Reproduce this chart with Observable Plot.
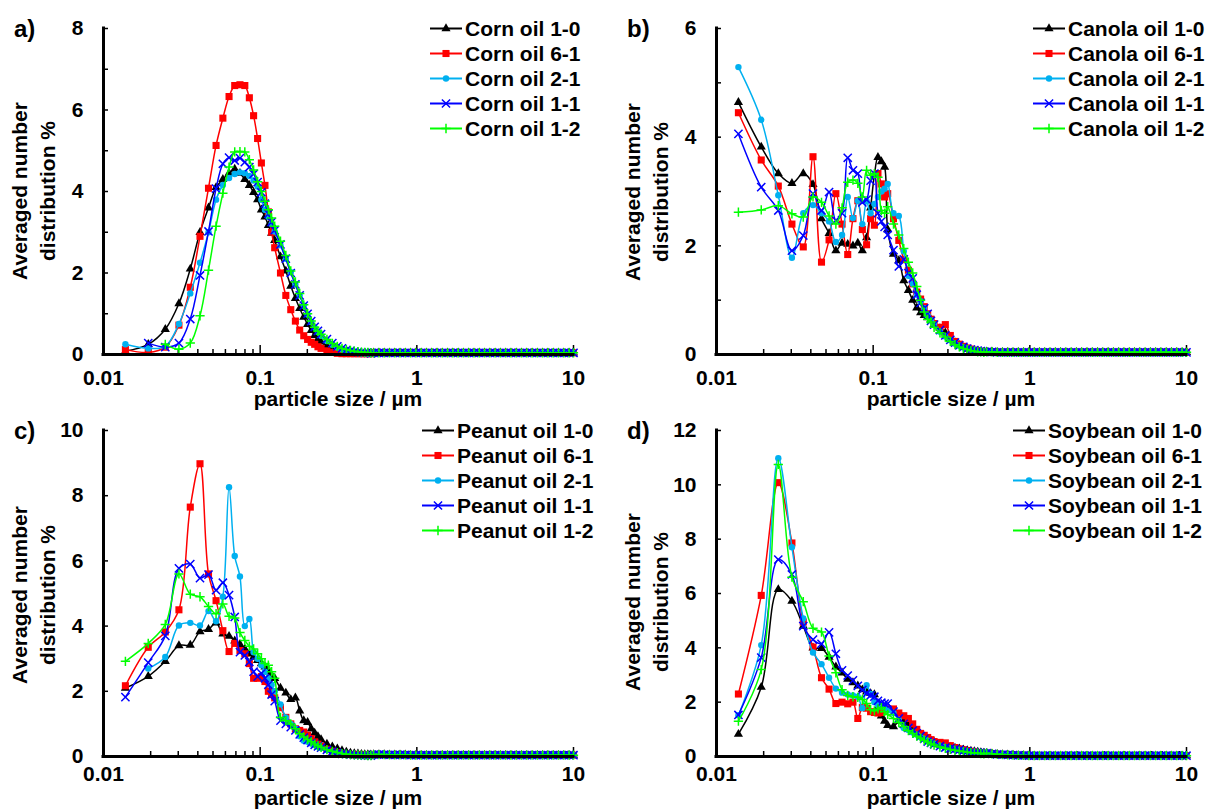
<!DOCTYPE html>
<html>
<head>
<meta charset="utf-8">
<script src="https://cdn.jsdelivr.net/npm/d3@7"></script>
<script src="https://cdn.jsdelivr.net/npm/@observablehq/plot@0.6"></script>
<style>
  body { margin: 0; background: #ffffff; }
  #root { position: relative; width: 1208px; height: 810px; overflow: hidden; background: #ffffff;
          font-family: "Liberation Sans", Arial, sans-serif; font-weight: bold; color: #000; }
  .panel { position: absolute; width: 595px; height: 402px; }
  .panel svg { position: absolute; left: 0; top: 0; overflow: visible; }
  .plabel { position: absolute; left: 14px; top: 15px; font-size: 24px; line-height: 28px; }
  .ytitle { position: absolute; width: 300px; height: 56px; line-height: 28px; font-size: 21px;
            text-align: center; transform: rotate(-90deg); white-space: nowrap; }
  .xtitle { position: absolute; width: 300px; line-height: 16px; font-size: 21px; text-align: center; white-space: nowrap; }
  .legend { position: absolute; top: 16px; }
  .legend .row { display: flex; align-items: center; height: 25px; font-size: 21px; white-space: nowrap; }
  .legend svg { position: static; margin-right: 3px; }
</style>
</head>
<body>
<div id="root"></div>
<script>
// ---------- shared size grid (µm) ----------
const headX = [0.0138,0.0193,0.0248,0.0303,0.0358,0.0413,0.0468,0.0523,0.0578,0.0633,0.0688,0.0743,0.0798,0.0853,0.0908,0.0963,0.1018,0.1073,0.1128,0.1183,0.1238,0.1348,0.1458,0.1568,0.1678,0.1788,0.1898,0.2008,0.2118,0.2228,0.2338,0.2448,0.2668,0.2888,0.3108,0.3328,0.3548,0.3768,0.3988,0.4208,0.4428,0.4648,0.4868,0.5088];
const tailX = [0.53,0.573,0.619,0.669,0.723,0.781,0.844,0.912,0.986,1.066,1.152,1.245,1.345,1.454,1.571,1.698,1.835,1.983,2.143,2.316,2.503,2.705,2.923,3.159,3.414,3.69,3.988,4.31,4.657,5.033,5.44,5.879,6.353,6.866,7.42,8.019,8.667,9.366,10];

// near-zero tails (0.5–10 µm)
const tailA = [0.04,0.04,0.04,0.04,0.04,0.04,0.04,0.04,0.04,0.04,0.04,0.04,0.04,0.04,0.04,0.04,0.04,0.04,0.04,0.04,0.04,0.04,0.04,0.04,0.04,0.04,0.04,0.04,0.04,0.04,0.04,0.04,0.04,0.04,0.04,0.04,0.04,0.04,0.04];
const tailB = [0.05,0.05,0.04,0.04,0.04,0.04,0.04,0.04,0.04,0.04,0.04,0.04,0.04,0.04,0.04,0.04,0.04,0.04,0.04,0.04,0.04,0.04,0.04,0.04,0.04,0.04,0.04,0.04,0.04,0.04,0.04,0.04,0.04,0.04,0.04,0.04,0.04,0.04,0.04];
const tailC = [0.06,0.06,0.06,0.05,0.05,0.05,0.05,0.04,0.04,0.04,0.04,0.04,0.04,0.04,0.04,0.04,0.04,0.04,0.04,0.04,0.04,0.04,0.04,0.04,0.04,0.04,0.04,0.04,0.04,0.04,0.04,0.04,0.04,0.04,0.04,0.04,0.04,0.04,0.04];
const tailD = [0.12,0.1,0.08,0.07,0.06,0.05,0.04,0.04,0.03,0.03,0.03,0.03,0.03,0.03,0.03,0.03,0.03,0.03,0.03,0.03,0.03,0.03,0.03,0.03,0.03,0.03,0.03,0.03,0.03,0.03,0.03,0.03,0.03,0.03,0.03,0.03,0.03,0.03,0.03];

// ---------- a) Corn oil ----------
const corn_1_0 = [0.08,0.25,0.62,1.25,2.1,3.0,3.6,4.1,4.3,4.45,4.55,4.45,4.3,4.15,3.98,3.8,3.55,3.38,3.17,2.98,2.8,2.4,2.05,1.68,1.38,1.13,0.92,0.74,0.59,0.47,0.38,0.31,0.2,0.13,0.09,0.06,0.04,0.03,0.03,0.03,0.03,0.03,0.03,0.03];
const corn_6_1 = [0.12,0.05,0.18,0.72,1.65,2.9,4.08,5.13,5.8,6.33,6.6,6.62,6.6,6.3,5.86,5.3,4.7,4.15,3.5,3.0,2.62,2.0,1.45,1.1,0.82,0.6,0.46,0.37,0.3,0.25,0.19,0.15,0.09,0.05,0.03,0.02,0.02,0.02,0.02,0.02,0.02,0.02,0.02,0.02];
const corn_2_1 = [0.25,0.15,0.2,0.75,1.5,2.25,3.0,3.8,4.16,4.33,4.43,4.47,4.45,4.38,4.27,4.12,3.8,3.55,3.38,3.2,3.02,2.68,2.35,2.02,1.72,1.45,1.2,0.98,0.8,0.66,0.55,0.46,0.33,0.24,0.17,0.13,0.1,0.08,0.06,0.05,0.04,0.04,0.03,0.03];
const corn_1_1 = [null,0.28,0.18,0.28,0.87,1.94,3.02,4.07,4.68,4.83,4.76,4.82,4.72,4.6,4.43,4.23,3.98,3.7,3.45,3.25,3.05,2.7,2.35,2.0,1.72,1.45,1.2,1.0,0.82,0.68,0.58,0.5,0.38,0.28,0.2,0.15,0.11,0.09,0.07,0.06,0.05,0.04,0.04,0.03];
const corn_1_2 = [null,null,0.25,0.13,0.28,0.95,2.07,3.15,3.96,4.6,4.97,4.98,4.97,4.78,4.53,4.24,4.0,3.76,3.55,3.35,3.15,2.78,2.43,2.05,1.78,1.5,1.22,1.0,0.82,0.67,0.57,0.5,0.37,0.27,0.2,0.15,0.12,0.1,0.08,0.07,0.06,0.05,0.05,0.04];

// ---------- b) Canola oil ----------
const canola_1_0 = [4.64,3.82,3.33,3.15,3.33,3.13,2.5,2.23,1.91,2.05,2.03,2.0,2.05,1.91,2.15,2.7,3.3,3.63,3.55,3.45,2.3,1.85,1.73,1.36,1.18,1.0,0.86,0.77,0.72,0.68,0.64,0.55,0.48,0.4,0.3,0.22,0.17,0.13,0.1,0.08,0.07,0.06,0.05,0.04];
const canola_6_1 = [4.45,3.58,3.1,2.4,1.98,3.64,1.7,2.11,2.96,2.4,1.84,2.5,2.83,2.3,2.02,2.5,2.38,3.33,3.14,2.9,2.96,2.5,2.1,1.75,1.55,1.3,1.15,1.02,0.88,0.75,0.65,0.57,0.5,0.55,0.35,0.24,0.19,0.15,0.12,0.1,0.08,0.07,0.06,0.05];
const canola_2_1 = [5.29,4.32,2.93,1.78,2.6,2.75,2.6,2.45,2.07,2.2,2.9,2.51,2.83,2.4,2.82,2.6,2.77,2.9,3.0,3.05,3.14,2.6,2.55,1.9,1.45,1.3,1.1,0.98,0.85,0.72,0.63,0.55,0.42,0.33,0.26,0.2,0.16,0.13,0.11,0.09,0.08,0.06,0.05,0.05];
const canola_1_1 = [4.06,3.08,2.65,1.91,2.19,2.96,2.65,2.99,2.47,2.6,3.62,3.39,3.33,2.8,2.85,3.2,3.33,2.6,2.45,2.35,2.2,1.92,1.62,1.75,1.5,1.4,1.1,0.95,0.85,0.75,0.62,0.55,0.45,0.35,0.27,0.22,0.17,0.14,0.11,0.09,0.08,0.07,0.06,0.05];
const canola_1_2 = [2.62,2.66,2.74,2.59,2.53,2.9,2.8,2.55,2.4,2.7,3.17,3.21,3.15,2.9,3.39,3.3,3.33,3.26,2.65,2.6,2.72,2.4,2.2,1.95,1.7,1.5,1.25,1.0,0.78,0.65,0.6,0.5,0.4,0.32,0.24,0.18,0.14,0.11,0.09,0.07,0.06,0.05,0.05,0.04];

// ---------- c) Peanut oil ----------
const peanut_1_0 = [2.1,2.46,2.92,3.4,3.42,3.83,3.9,4.1,3.76,3.69,3.55,3.44,3.3,3.15,3.05,2.95,2.85,2.75,2.6,2.5,2.4,2.1,1.95,1.75,1.8,1.4,1.1,1.05,0.85,0.72,0.61,0.52,0.38,0.3,0.24,0.18,0.14,0.11,0.09,0.08,0.07,0.06,0.06,0.05];
const peanut_6_1 = [2.17,3.35,3.82,4.5,7.65,8.98,5.6,4.78,3.86,3.22,3.47,3.25,3.15,2.85,2.4,2.4,2.45,2.3,2.0,1.9,1.8,1.5,1.2,1.0,0.85,0.8,0.75,0.65,0.55,0.45,0.38,0.32,0.22,0.16,0.12,0.09,0.07,0.06,0.05,0.05,0.04,0.04,0.03,0.03];
const peanut_2_1 = [null,2.7,3.05,4.02,4.1,4.02,4.46,4.15,4.9,8.26,6.15,5.52,4.0,4.22,3.2,3.0,2.8,2.6,2.4,2.2,2.0,1.6,1.2,1.0,0.85,0.62,0.48,0.45,0.4,0.35,0.3,0.26,0.2,0.15,0.11,0.08,0.06,0.05,0.04,0.04,0.03,0.03,0.03,0.03];
const peanut_1_1 = [1.82,2.88,3.7,5.77,5.9,5.47,5.58,5.1,5.33,4.95,4.28,3.2,3.1,2.9,2.6,2.45,2.55,2.4,2.2,1.9,1.7,1.1,1.0,0.9,0.8,0.68,0.58,0.5,0.42,0.36,0.31,0.27,0.2,0.15,0.11,0.08,0.07,0.06,0.05,0.04,0.04,0.03,0.03,0.03];
const peanut_1_2 = [2.92,3.47,4.05,5.6,4.98,4.9,4.6,4.38,4.68,4.3,4.25,3.8,3.56,3.38,3.3,3.15,3.0,2.85,2.8,2.6,2.4,1.2,1.1,1.0,0.85,0.7,0.6,0.52,0.45,0.38,0.33,0.28,0.21,0.16,0.12,0.09,0.07,0.06,0.05,0.05,0.04,0.04,0.03,0.03];

// ---------- d) Soybean oil ----------
const soy_1_0 = [0.82,2.55,6.15,5.72,4.8,4.0,3.98,3.66,3.3,3.08,2.85,2.72,2.6,2.46,2.38,2.32,2.28,1.8,1.5,1.3,1.15,1.1,1.3,1.3,1.15,1.0,0.88,0.78,0.7,0.64,0.58,0.53,0.45,0.4,0.35,0.31,0.28,0.25,0.22,0.2,0.18,0.16,0.15,0.13];
const soy_6_1 = [2.3,5.93,10.08,7.86,4.95,4.03,2.9,2.48,1.95,2.0,1.94,2.0,1.4,1.8,1.78,1.65,1.62,1.6,1.62,1.7,1.75,1.75,1.6,1.5,1.4,1.2,1.0,0.85,0.78,0.7,0.62,0.55,0.52,0.5,0.4,0.33,0.28,0.25,0.22,0.19,0.17,0.15,0.13,0.12];
const soy_2_1 = [1.52,4.1,10.98,7.7,5.08,3.83,3.4,2.9,2.5,2.35,2.28,2.25,2.2,1.78,2.62,2.3,2.0,1.9,1.85,1.8,1.7,1.6,1.35,1.05,0.98,0.88,0.8,0.72,0.65,0.58,0.52,0.47,0.4,0.35,0.3,0.26,0.23,0.2,0.18,0.16,0.14,0.13,0.12,0.11];
const soy_1_1 = [1.53,3.64,7.25,6.7,4.8,4.3,4.15,4.57,3.78,3.17,2.98,2.8,2.6,2.45,2.32,2.25,2.2,2.05,1.98,1.95,1.95,1.65,1.4,1.2,1.05,0.95,0.85,0.75,0.65,0.55,0.5,0.45,0.38,0.33,0.3,0.27,0.24,0.21,0.19,0.17,0.15,0.14,0.13,0.12];
const soy_1_2 = [1.3,3.2,10.75,6.6,5.7,4.72,4.58,3.7,3.08,2.46,2.25,2.2,2.18,2.1,1.95,1.72,1.68,1.75,1.8,1.65,1.55,1.4,1.25,1.1,0.95,0.85,0.75,0.68,0.6,0.53,0.47,0.42,0.35,0.3,0.26,0.23,0.2,0.18,0.16,0.14,0.13,0.12,0.11,0.1];

// ---------- ticks ----------
const xMajor = [0.01, 0.1, 1, 10];
const xMinor = [0.02,0.03,0.04,0.05,0.06,0.07,0.08,0.09,0.2,0.3,0.4,0.5,0.6,0.7,0.8,0.9,2,3,4,5,6,7,8,9];
const yLabelsA = [0,2,4,6,8],        yTicksA = [0,1,2,3,4,5,6,7,8];
const yLabelsB = [0,2,4,6],          yTicksB = [0,1,2,3,4,5,6];
const yLabelsC = [0,2,4,6,8,10],     yTicksC = [0,2,4,6,8,10];
const yLabelsD = [0,2,4,6,8,10,12],  yTicksD = [0,2,4,6,8,10,12];

const seriesKeys = ["1-0","6-1","2-1","1-1","1-2"];
const seriesStyle = [
  {color:"#000000", symbol:"triangle", r:3.4, filled:true},
  {color:"#FF0000", symbol:"square",   r:4.0, filled:true},
  {color:"#00B0F0", symbol:"circle",   r:3.2, filled:true},
  {color:"#0000FF", symbol:"times",    r:3.8, filled:false},
  {color:"#00FF00", symbol:"plus",     r:3.1, filled:false}
];

const panels = [
  {label:"a)", left:0,   top:0,   oil:"Corn oil",    ymax:8,  yl:yLabelsA, yt:yTicksA, tail:tailA, series:[corn_1_0,corn_6_1,corn_2_1,corn_1_1,corn_1_2],           legendLeft:430, ytc:191, xtc:399, pad:16},
  {label:"b)", left:613, top:0,   oil:"Canola oil",  ymax:6,  yl:yLabelsB, yt:yTicksB, tail:tailB, series:[canola_1_0,canola_6_1,canola_2_1,canola_1_1,canola_1_2], legendLeft:420, ytc:192, xtc:399, pad:16},
  {label:"c)", left:0,   top:402, oil:"Peanut oil",  ymax:10, yl:yLabelsC, yt:yTicksC, tail:tailC, series:[peanut_1_0,peanut_6_1,peanut_2_1,peanut_1_1,peanut_1_2], legendLeft:422, ytc:193, xtc:395.6, pad:10},
  {label:"d)", left:613, top:402, oil:"Soybean oil", ymax:12, yl:yLabelsD, yt:yTicksD, tail:tailD, series:[soy_1_0,soy_6_1,soy_2_1,soy_1_1,soy_1_2],                legendLeft:400, ytc:200, xtc:395.6, pad:10}
];

const symbolTypes = {triangle:d3.symbolTriangle, square:d3.symbolSquare, circle:d3.symbolCircle, times:d3.symbolTimes, plus:d3.symbolPlus};
const root = document.getElementById("root");

for (const p of panels) {
  const marks = [
    Plot.axisY(p.yt, {tickSize: 5, dx: 5, fill: null, strokeWidth: 1.5, label: null}),
    Plot.axisY(p.yl, {tickSize: 0, tickPadding: 20, fontSize: 21, fontWeight: "bold", tickFormat: d => String(d), label: null}),
    Plot.axisX(xMinor, {tickSize: 5, dy: -5, fill: null, strokeWidth: 1.5, label: null}),
    Plot.axisX(xMajor, {tickSize: 9, dy: -9, fill: null, strokeWidth: 1.5, label: null}),
    Plot.axisX(xMajor, {tickSize: 0, tickPadding: p.pad, fontSize: 21, fontWeight: "bold", tickFormat: d => String(d), label: null})
  ];
  p.series.forEach((ys, si) => {
    const st = seriesStyle[si];
    const data = headX.map((x, i) => ({x, y: ys[i]})).filter(d => d.y != null)
      .concat(tailX.map((x, i) => ({x, y: p.tail[i]})));
    marks.push(Plot.line(data, {x: "x", y: "y", stroke: st.color, strokeWidth: 1.5, curve: "catmull-rom"}));
    marks.push(Plot.dot(data, st.filled
      ? {x: "x", y: "y", symbol: st.symbol, r: st.r, fill: st.color, stroke: "none"}
      : {x: "x", y: "y", symbol: st.symbol, r: st.r, fill: "none", stroke: st.color, strokeWidth: 1.5}));
  });
  marks.push(Plot.ruleX([0.01], {strokeWidth: 3, strokeLinecap: "square"}));
  marks.push(Plot.ruleY([0], {strokeWidth: 3, strokeLinecap: "square"}));

  const chart = Plot.plot({
    width: 595, height: 402,
    marginLeft: 103, marginRight: 22, marginTop: 28, marginBottom: 48,
    x: {type: "log", domain: [0.01, 10]},
    y: {domain: [0, p.ymax]},
    style: {background: "transparent", fontFamily: "Liberation Sans, Arial, sans-serif", fontWeight: "bold", color: "#000", overflow: "visible"},
    marks
  });

  const div = document.createElement("div");
  div.className = "panel";
  div.style.left = p.left + "px";
  div.style.top = p.top + "px";
  div.appendChild(chart);

  const lab = document.createElement("div");
  lab.className = "plabel"; lab.textContent = p.label;
  div.appendChild(lab);

  const yt = document.createElement("div");
  yt.className = "ytitle";
  yt.style.left = (34 - 150) + "px";
  yt.style.top = (p.ytc - 28) + "px";
  yt.innerHTML = "Averaged number<br>distribution %";
  div.appendChild(yt);

  const xt = document.createElement("div");
  xt.className = "xtitle";
  xt.style.left = (338 - 150) + "px";
  xt.style.top = (p.xtc - 8) + "px";
  xt.textContent = "particle size / µm";
  div.appendChild(xt);

  const lg = document.createElement("div");
  lg.className = "legend";
  lg.style.left = p.legendLeft + "px";
  seriesKeys.forEach((k, si) => {
    const st = seriesStyle[si];
    const row = document.createElement("div");
    row.className = "row";
    const path = d3.symbol(symbolTypes[st.symbol], Math.PI * st.r * st.r)();
    const sym = st.filled
      ? `<path d="${path}" transform="translate(16,12.5)" fill="${st.color}"/>`
      : `<path d="${path}" transform="translate(16,12.5)" fill="none" stroke="${st.color}" stroke-width="1.5"/>`;
    row.innerHTML = `<svg width="32" height="25"><line x1="0" x2="32" y1="12.5" y2="12.5" stroke="${st.color}" stroke-width="2"/>${sym}</svg><span>${p.oil} ${k}</span>`;
    lg.appendChild(row);
  });
  div.appendChild(lg);

  root.appendChild(div);
}
</script>
</body>
</html>
